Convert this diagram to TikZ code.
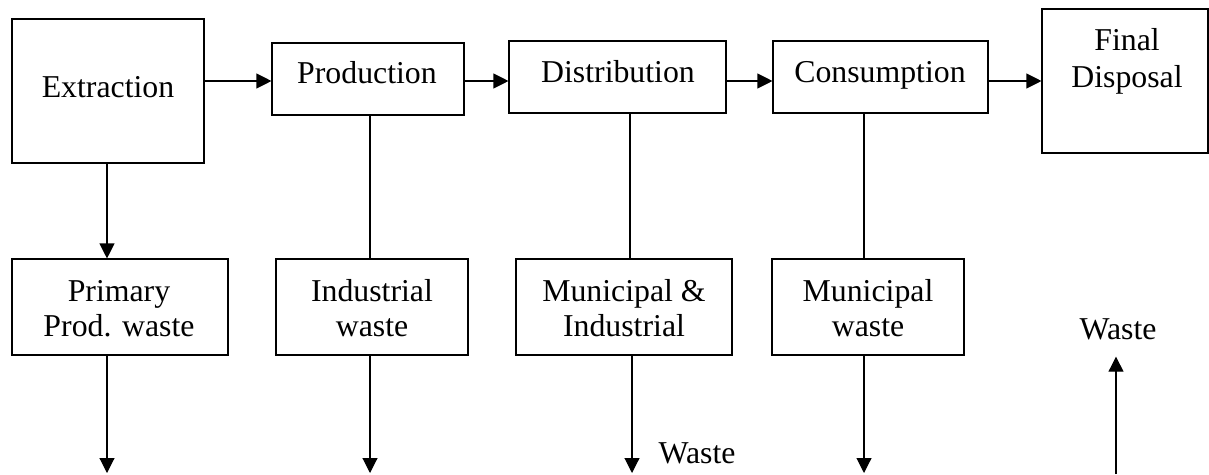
\documentclass[tikz,border=0pt]{standalone}
\usepackage{fontspec}
\setmainfont{Liberation Serif}
\usetikzlibrary{arrows.meta}
\begin{document}
\begin{tikzpicture}[x=1pt,y=-1pt,
  box/.style={draw=black,line width=1.1pt,inner sep=0pt,fill=none},
  txt/.style={inner sep=0pt,anchor=base,font=\fontsize{31.8}{36}\selectfont},
  link/.style={line width=1.1pt},
  arr/.style={line width=1.1pt,-{Triangle[length=15pt,width=15pt]}}]
\useasboundingbox (0,0) rectangle (1209,474);

% top row of stages
\node[box,minimum width=192pt,minimum height=144pt] (ext) at (108,91) {};
\node[box,minimum width=192pt,minimum height=72pt] (prod) at (368,79) {};
\node[box,minimum width=217pt,minimum height=72pt] (dist) at (617.5,77) {};
\node[box,minimum width=215pt,minimum height=72pt] (cons) at (880.5,77) {};
\node[box,minimum width=166pt,minimum height=144pt] (fin) at (1125,81) {};

\node[txt] (extT) at (108,97) {Extraction};
\node[txt] (prodT) at (367,83) {Production};
\node[txt] (distT) at (618,82) {Distribution};
\node[txt] (consT) at (880,82) {Consumption};
\node[txt] (finT1) at (1127,50) {Final};
\node[txt] (finT2) at (1127,87) {Disposal};

% bottom row of waste streams
\node[box,minimum width=216pt,minimum height=96pt] (prim) at (120,307) {};
\node[box,minimum width=192pt,minimum height=96pt] (ind) at (372,307) {};
\node[box,minimum width=216pt,minimum height=96pt] (mi) at (624,307) {};
\node[box,minimum width=192pt,minimum height=96pt] (mun) at (868,307) {};

\node[txt] (primT1) at (119,301) {Primary};
\node[txt] (primT2) at (119,336) {Prod. waste};
\node[txt] (indT1) at (372,301) {Industrial};
\node[txt] (indT2) at (372,336) {waste};
\node[txt] (miT1) at (624,301) {Municipal \&};
\node[txt] (miT2) at (624,336) {Industrial};
\node[txt] (munT1) at (868,301) {Municipal};
\node[txt] (munT2) at (868,336) {waste};

\node[txt] (wasteM) at (697,463) {Waste};
\node[txt] (wasteR) at (1118,339) {Waste};

% flow along the chain, all on one level
\draw[arr] ([yshift=10pt]ext.east) -- ([yshift=10pt]ext.east -| prod.west);
\draw[arr] ([yshift=-2pt]prod.east) -- ([yshift=-2pt]prod.east -| dist.west);
\draw[arr] ([yshift=-4pt]dist.east) -- ([yshift=-4pt]dist.east -| cons.west);
\draw[arr] ([yshift=-4pt]cons.east) -- ([yshift=-4pt]cons.east -| fin.west);

% links from each stage to its waste
\draw[arr] ([xshift=-1pt]ext.south) -- ([xshift=-1pt]ext.south |- prim.north);
\draw[link] ([xshift=2pt]prod.south) -- ([xshift=2pt]prod.south |- ind.north);
\draw[link] ([xshift=12.5pt]dist.south) -- ([xshift=12.5pt]dist.south |- mi.north);
\draw[link] ([xshift=-16.5pt]cons.south) -- ([xshift=-16.5pt]cons.south |- mun.north);

% outgoing waste arrows
\coordinate (o1) at (107,473);
\coordinate (o2) at (370,473);
\coordinate (o3) at (632,473);
\coordinate (o4) at (864,473);
\coordinate (o5) at (1116,474);
\draw[arr] (prim.south -| o1) -- (o1);
\draw[arr] (ind.south -| o2) -- (o2);
\draw[arr] (mi.south -| o3) -- (o3);
\draw[arr] (mun.south -| o4) -- (o4);
\draw[arr] (o5) -- ([yshift=-17pt]wasteR.south -| o5);
\end{tikzpicture}
\end{document}
